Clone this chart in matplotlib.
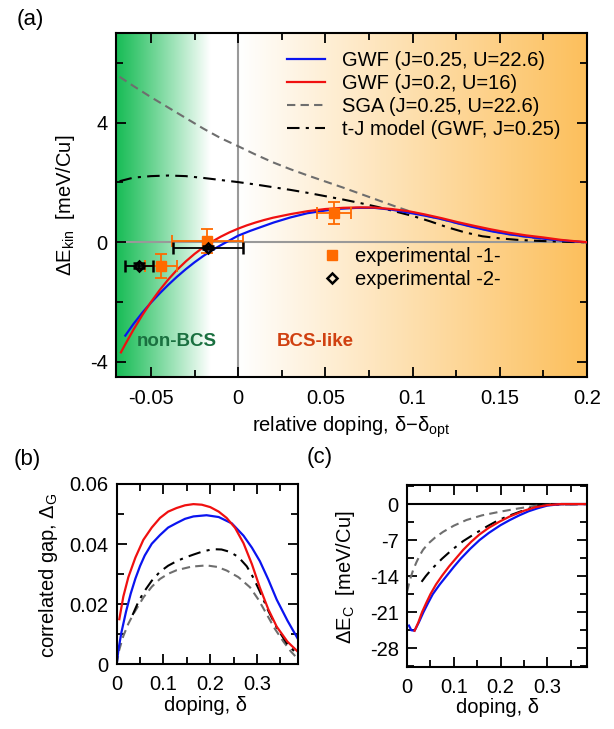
"""
Kinetic energy gain, correlated gap and condensation energy vs doping.
"""

import numpy as np
import matplotlib
matplotlib.use("Agg")
import matplotlib.pyplot as plt
from matplotlib.ticker import MultipleLocator, FuncFormatter
from matplotlib.lines import Line2D

plt.rcParams["font.family"] = ["Liberation Sans", "DejaVu Sans"]
plt.rcParams["font.size"] = 14.5
plt.rcParams["mathtext.fontset"] = "custom"
plt.rcParams["mathtext.rm"] = "Liberation Sans"
plt.rcParams["axes.unicode_minus"] = False

# ---- panel (a): delta E_kin vs relative doping ----
a_blue_x = [-0.0647, -0.06, -0.055, -0.05, -0.045, -0.04, -0.035, -0.03, -0.025, -0.02,
            -0.015, -0.01, -0.005, 0.0, 0.0069, 0.0204, 0.03, 0.0397, 0.05, 0.059, 0.068,
            0.078, 0.088, 0.0975, 0.107, 0.117, 0.126, 0.136, 0.145, 0.155, 0.165, 0.175,
            0.185, 0.194, 0.2]
a_blue_y = [-3.12, -2.73, -2.36, -2.02, -1.71, -1.42, -1.15, -0.9, -0.67, -0.46,
            -0.27, -0.1, 0.06, 0.22, 0.38, 0.66, 0.83, 0.97, 1.06, 1.12, 1.15,
            1.15, 1.09, 0.99, 0.89, 0.77, 0.63, 0.49, 0.37, 0.27, 0.19, 0.12,
            0.06, 0.02, 0.0]

a_red_x = [-0.0672, -0.065, -0.06, -0.055, -0.05, -0.045, -0.04, -0.035, -0.03, -0.025,
           -0.02, -0.015, -0.01, -0.005, 0.0, 0.005, 0.01, 0.015, 0.02, 0.03, 0.04, 0.05,
           0.06, 0.07, 0.078, 0.088, 0.0975, 0.107, 0.117, 0.126, 0.136, 0.145, 0.155,
           0.165, 0.175, 0.185, 0.194, 0.2]
a_red_y = [-3.68, -3.44, -2.92, -2.44, -2.0, -1.6, -1.24, -0.92, -0.64, -0.39,
           -0.17, 0.02, 0.185, 0.33, 0.455, 0.565, 0.66, 0.745, 0.82, 0.94, 1.04, 1.11,
           1.15, 1.165, 1.16, 1.11, 1.04, 0.93, 0.8, 0.67, 0.54, 0.43, 0.32,
           0.23, 0.16, 0.08, 0.03, 0.0]

a_sga_x = [-0.068, -0.06, -0.05, -0.04, -0.03, -0.02, -0.01, 0.0, 0.01, 0.02, 0.03, 0.04,
           0.05, 0.06, 0.07, 0.08, 0.09, 0.1, 0.11, 0.12, 0.13, 0.14, 0.15, 0.16, 0.17,
           0.18, 0.19, 0.2]
a_sga_y = [5.53, 5.22, 4.85, 4.5, 4.15, 3.8, 3.48, 3.21, 2.93, 2.67, 2.44, 2.23,
           2.03, 1.83, 1.62, 1.41, 1.2, 1.0, 0.86, 0.72, 0.58, 0.44, 0.32, 0.22, 0.14,
           0.08, 0.03, 0.0]

a_tj_x = [-0.068, -0.06, -0.05, -0.04, -0.03, -0.02, -0.01, 0.0, 0.01, 0.02, 0.03, 0.04,
          0.05, 0.06, 0.07, 0.08, 0.09, 0.1, 0.11, 0.12, 0.13, 0.14, 0.15, 0.16, 0.17,
          0.18, 0.19, 0.2]
a_tj_y = [2.04, 2.16, 2.21, 2.23, 2.21, 2.15, 2.08, 2.01, 1.93, 1.84, 1.75, 1.65,
          1.54, 1.43, 1.31, 1.18, 1.03, 0.88, 0.7, 0.5, 0.33, 0.2, 0.13, 0.08, 0.05,
          0.03, 0.01, 0.0]

exp1_x = [-0.0441, -0.0177, 0.0551]
exp1_y = [-0.79, 0.03, 0.97]
exp1_xerr = [0.0092, 0.0203, 0.0098]
exp1_yerr = [0.39, 0.4, 0.37]

exp2_x = [-0.057, -0.0172]
exp2_y = [-0.79, -0.18]
exp2_xerr = [0.008, 0.02]
exp2_yerr = [0.08, 0.06]

legend_labels = ["GWF (J=0.25, U=22.6)", "GWF (J=0.2, U=16)",
                 "SGA (J=0.25, U=22.6)", "t-J model (GWF, J=0.25)"]
exp_labels = ["experimental -1-", "experimental -2-"]

# ---- panel (b): correlated gap vs doping ----
b_red_x = [0.0057, 0.0142, 0.025, 0.04, 0.057, 0.075, 0.0926, 0.11, 0.128, 0.146, 0.164,
           0.182, 0.2, 0.218, 0.235, 0.253, 0.271, 0.289, 0.306, 0.324, 0.342, 0.365, 0.387]
b_red_y = [0.015, 0.0225, 0.029, 0.0355, 0.0414, 0.0455, 0.0487, 0.0508, 0.052, 0.0529, 0.0533,
           0.0531, 0.0523, 0.0508, 0.0487, 0.0454, 0.0403, 0.0333, 0.0255, 0.0183, 0.0125,
           0.0075, 0.0042]

b_blue_x = [0.0, 0.004, 0.01, 0.02, 0.03, 0.04, 0.05, 0.06, 0.075, 0.0926, 0.11, 0.128,
            0.146, 0.164, 0.192, 0.218, 0.246, 0.271, 0.289, 0.306, 0.324, 0.342, 0.365,
            0.387]
b_blue_y = [0.0, 0.005, 0.0105, 0.0175, 0.0235, 0.0285, 0.0327, 0.0362, 0.0401, 0.043, 0.0455,
            0.047, 0.0484, 0.0492, 0.0496, 0.049, 0.0469, 0.0428, 0.0388, 0.0343, 0.0282,
            0.0215, 0.0145, 0.0085]

b_tj_x = [0.034, 0.045, 0.057, 0.075, 0.0926, 0.11, 0.128, 0.146, 0.164, 0.185, 0.206,
          0.224, 0.242, 0.26, 0.278, 0.292, 0.306, 0.324, 0.342, 0.365, 0.387]
b_tj_y = [0.0164, 0.0203, 0.0238, 0.0278, 0.0308, 0.0328, 0.0343, 0.0355, 0.0365, 0.0376, 0.0383,
          0.0382, 0.0374, 0.0357, 0.0326, 0.0288, 0.0242, 0.0178, 0.0122, 0.0066, 0.0032]

b_sga_x = [0.0, 0.005, 0.014, 0.025, 0.036, 0.057, 0.075, 0.0926, 0.11, 0.128, 0.16, 0.192,
           0.215, 0.235, 0.26, 0.285, 0.303, 0.32, 0.338, 0.356, 0.372, 0.387]
b_sga_y = [0.0, 0.0045, 0.0093, 0.0135, 0.0168, 0.0222, 0.0258, 0.0284, 0.0301, 0.0313, 0.0325,
           0.0329, 0.0324, 0.0312, 0.029, 0.0256, 0.0215, 0.0168, 0.0118, 0.0076, 0.0043, 0.0018]

# ---- panel (c): condensation energy vs doping ----
c_blue_x = [0.004, 0.009, 0.016, 0.025, 0.035, 0.045, 0.055, 0.07, 0.085, 0.1, 0.115,
            0.135, 0.155, 0.175, 0.2, 0.22, 0.24, 0.26, 0.28, 0.3, 0.33, 0.385]
c_blue_y = [-23.6, -24.5, -24.6, -23.0, -21.0, -19.2, -17.5, -15.6, -13.9, -12.2, -10.6,
            -8.7, -7.0, -5.6, -4.1, -3.1, -2.2, -1.4, -0.8, -0.3, 0.0, 0.0]

c_red_x = [0.016, 0.024, 0.032, 0.041, 0.05, 0.062, 0.075, 0.09, 0.105, 0.12, 0.1375,
           0.155, 0.175, 0.198, 0.22, 0.25, 0.275, 0.3, 0.33, 0.385]
c_red_y = [-24.6, -23.0, -21.0, -19.2, -17.5, -15.6, -13.9, -12.1, -10.5, -8.9, -7.3,
           -5.9, -4.6, -3.4, -2.4, -1.3, -0.6, -0.2, 0.0, 0.0]

c_sga_x = [0.0, 0.004, 0.008, 0.013, 0.02, 0.027, 0.034, 0.045, 0.06, 0.077, 0.1, 0.127,
           0.16, 0.198, 0.235, 0.27, 0.3, 0.385]
c_sga_y = [-17.0, -15.5, -14.2, -12.8, -11.3, -10.0, -8.9, -7.7, -6.5, -5.4, -4.2, -3.1,
           -2.2, -1.5, -0.9, -0.4, -0.1, 0.0]

c_tj_x = [0.031, 0.04, 0.054, 0.075, 0.096, 0.12, 0.146, 0.17, 0.196, 0.22, 0.25, 0.275,
          0.3, 0.385]
c_tj_y = [-15.1, -14.0, -12.5, -10.6, -8.9, -7.2, -5.7, -4.4, -3.1, -2.2, -1.2, -0.5,
          -0.1, 0.0]

BLUE = "#0a14f0"
RED = "#f01010"
GRAY = "#6e6e6e"
ORANGE = "#ff6a00"
SGA_DASH = (4, 2.5)
TJ_DASH = (6, 3, 1.5, 3)


def style_axes(ax, xmaj, xmin, ymaj, ymin):
    ax.xaxis.set_major_locator(MultipleLocator(xmaj))
    ax.xaxis.set_minor_locator(MultipleLocator(xmin))
    ax.yaxis.set_major_locator(MultipleLocator(ymaj))
    ax.yaxis.set_minor_locator(MultipleLocator(ymin))
    fmt = FuncFormatter(lambda v, p: "{:g}".format(round(v, 6)))
    ax.xaxis.set_major_formatter(fmt)
    ax.yaxis.set_major_formatter(fmt)
    ax.tick_params(which="both", direction="in", top=True, right=True, width=1.3)
    ax.tick_params(which="major", length=7)
    ax.tick_params(which="minor", length=5)
    ax.tick_params(axis="x", which="major", pad=9)
    ax.tick_params(axis="y", which="major", pad=6)
    for s in ax.spines.values():
        s.set_linewidth(1.5)


fig = plt.figure(figsize=(6.14, 7.29), dpi=100)

# ---------------- (a) ----------------
ax = fig.add_axes([0.189, 0.483, 0.767, 0.472])
xlo, xhi, ylo, yhi = -0.07, 0.2, -4.5, 7.0

# background gradient: green (non-BCS) -> white -> orange (BCS-like)
gx = np.linspace(xlo, xhi, 600)
green = np.array([0.10, 0.74, 0.34])
orange = np.array([0.99, 0.75, 0.36])
white = np.ones(3)
grad = np.zeros((1, gx.size, 3))
for i, v in enumerate(gx):
    if v < -0.016:
        t = (v - xlo) / (-0.016 - xlo)
        grad[0, i] = green + (white - green) * t ** 1.1
    elif v < 0:
        grad[0, i] = white
    else:
        t = v / xhi
        grad[0, i] = white + (orange - white) * t
ax.imshow(grad, extent=[xlo, xhi, ylo, yhi], aspect="auto", zorder=0, interpolation="bilinear")

ax.axhline(0, color="#999999", lw=1.5, zorder=1)
ax.axvline(0, color="#999999", lw=1.5, zorder=1)

ax.plot(a_sga_x, a_sga_y, color=GRAY, lw=1.5, dashes=SGA_DASH, zorder=3)
ax.plot(a_tj_x, a_tj_y, color="black", lw=1.5, dashes=TJ_DASH, zorder=3)
ax.plot(a_blue_x, a_blue_y, color=BLUE, lw=1.6, zorder=4)
ax.plot(a_red_x, a_red_y, color=RED, lw=1.6, zorder=4)

ax.errorbar(exp1_x, exp1_y, xerr=exp1_xerr, yerr=exp1_yerr, fmt="s", color=ORANGE,
            ms=7, capsize=4, elinewidth=1.3, capthick=1.3, zorder=5)
ax.errorbar(exp2_x, exp2_y, xerr=exp2_xerr, yerr=exp2_yerr, fmt="D", color="black",
            mfc="none", mew=1.8, ms=5.5, capsize=4, elinewidth=1.3, capthick=1.3, zorder=6)

ax.set_xlim(xlo, xhi)
ax.set_ylim(ylo, yhi)
style_axes(ax, 0.05, 0.025, 4, 2)
ax.set_xlabel("relative doping, δ−δ$_{\\mathrm{opt}}$")
ax.set_ylabel("ΔE$_{\\mathrm{kin}}$  [meV/Cu]")
ax.xaxis.set_label_coords(0.5, -0.11)
ax.yaxis.set_label_coords(-0.083, 0.5)

h1 = [Line2D([], [], color=BLUE, lw=1.6),
      Line2D([], [], color=RED, lw=1.6),
      Line2D([], [], color=GRAY, lw=1.5, dashes=SGA_DASH),
      Line2D([], [], color="black", lw=1.5, dashes=TJ_DASH)]
leg1 = ax.legend(h1, legend_labels, loc="upper left", bbox_to_anchor=(0.363, 0.947),
                 frameon=False, handlelength=1.9, handletextpad=0.85, labelspacing=0.2,
                 borderpad=0, borderaxespad=0)
ax.add_artist(leg1)
h2 = [Line2D([], [], ls="none", marker="s", color=ORANGE, ms=7),
      Line2D([], [], ls="none", marker="D", color="black", mfc="none", mew=1.8, ms=5.5)]
ax.legend(h2, exp_labels, loc="upper left", bbox_to_anchor=(0.437, 0.377),
          frameon=False, handlelength=1.0, handletextpad=0.65, labelspacing=0.2,
          borderpad=0, borderaxespad=0)

ax.text(-0.058, -3.33, "non-BCS", color="#1a7040", fontsize=13.5, fontweight="bold",
        va="center", ha="left")
ax.text(0.022, -3.33, "BCS-like", color="#d04010", fontsize=13.5, fontweight="bold",
        va="center", ha="left")

# ---------------- (b) ----------------
axb = fig.add_axes([0.190, 0.0888, 0.295, 0.2473])
axb.plot(b_sga_x, b_sga_y, color=GRAY, lw=1.5, dashes=SGA_DASH)
axb.plot(b_tj_x, b_tj_y, color="black", lw=1.5, dashes=TJ_DASH)
axb.plot(b_blue_x, b_blue_y, color=BLUE, lw=1.6)
axb.plot(b_red_x, b_red_y, color=RED, lw=1.6)
axb.set_xlim(0, 0.387)
axb.set_ylim(0, 0.06)
style_axes(axb, 0.1, 0.05, 0.02, 0.01)
axb.tick_params(axis="x", which="major", pad=8)
axb.set_xlabel("doping, δ")
axb.set_ylabel("correlated gap, Δ$_{\\mathrm{G}}$")
axb.xaxis.set_label_coords(0.49, -0.178)
axb.yaxis.set_label_coords(-0.313, 0.495)

# ---------------- (c) ----------------
axc = fig.add_axes([0.663, 0.085, 0.293, 0.2497])
axc.axhline(0, color="black", lw=1.5)
axc.plot(c_sga_x, c_sga_y, color=GRAY, lw=1.5, dashes=SGA_DASH)
axc.plot(c_tj_x, c_tj_y, color="black", lw=1.5, dashes=TJ_DASH)
axc.plot(c_blue_x, c_blue_y, color=BLUE, lw=1.6)
axc.plot(c_red_x, c_red_y, color=RED, lw=1.6)
axc.set_xlim(0, 0.385)
axc.set_ylim(-31.65, 3.7)
style_axes(axc, 0.1, 0.05, 7, 3.5)
axc.tick_params(axis="x", which="major", pad=8)
axc.set_xlabel("doping, δ")
axc.set_ylabel("ΔE$_{\\mathrm{C}}$  [meV/Cu]")
axc.xaxis.set_label_coords(0.5, -0.172)
axc.yaxis.set_label_coords(-0.28, 0.495)

fig.text(0.049, 0.9726, "(a)", fontsize=16, ha="center", va="center")
fig.text(0.044, 0.369, "(b)", fontsize=16, ha="center", va="center")
fig.text(0.521, 0.373, "(c)", fontsize=16, ha="center", va="center")

fig.savefig("out.png", dpi=100)
